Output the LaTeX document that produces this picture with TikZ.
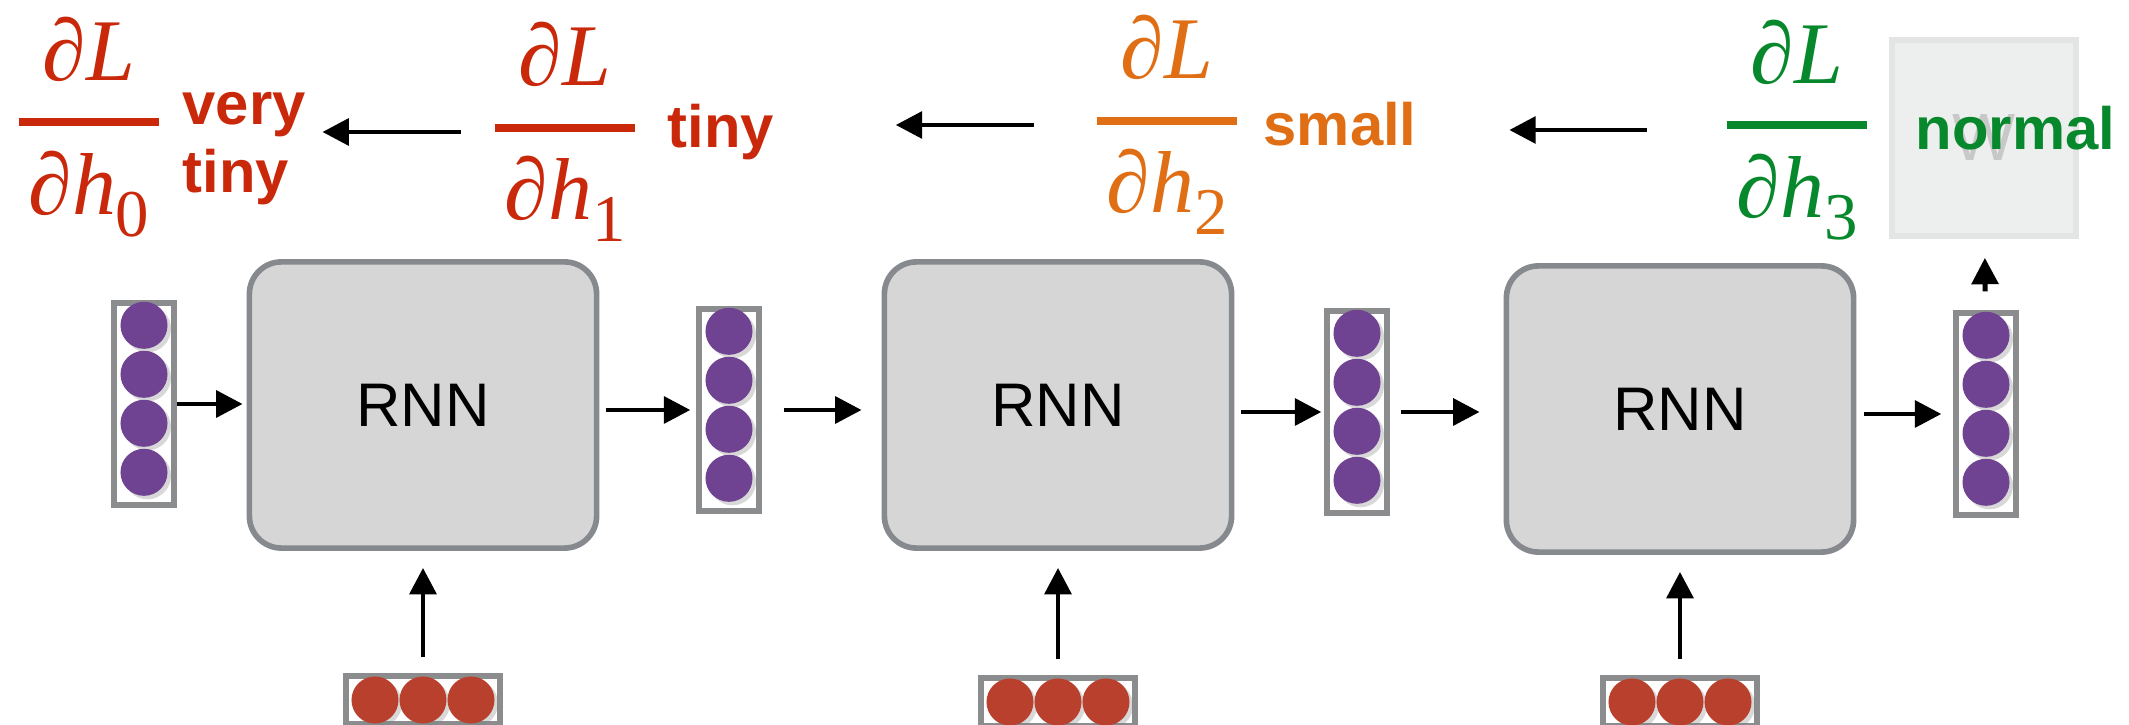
\documentclass[tikz,border=0pt]{standalone}
\usepackage{amsmath}
\usepackage{fontspec}
\setmainfont{Liberation Serif}
\setsansfont{Liberation Sans}
\usetikzlibrary{arrows.meta,shadows,positioning,calc}

\definecolor{gradred}{RGB}{201,40,10}
\definecolor{gradorange}{RGB}{224,110,20}
\definecolor{gradgreen}{RGB}{8,136,44}
\definecolor{hcol}{RGB}{112,66,146}
\definecolor{xcol}{RGB}{184,64,44}
\definecolor{cellfill}{RGB}{214,214,214}
\definecolor{cellline}{RGB}{134,137,141}
\definecolor{vecline}{RGB}{138,140,142}
\definecolor{wfill}{RGB}{237,238,238}
\definecolor{wline}{RGB}{227,228,228}
\definecolor{wtext}{RGB}{200,200,200}

% dL/dh_i with a thick bar
\newcommand{\dLdh}[1]{$\genfrac{}{}{2.3pt}{0}{\raisebox{0.05em}{\textit{∂L}}}{\kern0.1cm\textit{∂h}\raisebox{-0.25em}{\fontsize{19}{19}\selectfont #1}\kern0.1cm}$}

\tikzset{
  rnncell/.style={draw=cellline, fill=cellfill, line width=1.6pt, rounded corners=0.32cm,
    minimum width=3.47cm, minimum height=2.86cm, font=\sffamily\fontsize{17.5}{20}\selectfont},
  vecbox/.style={draw=vecline, fill=white, line width=1.5pt, inner sep=0pt},
  hbox/.style={vecbox, minimum width=0.6cm, minimum height=2.02cm},
  xbox/.style={vecbox, minimum width=1.54cm, minimum height=0.48cm},
  neuron/.style={circle, inner sep=0pt, minimum size=0.47cm,
    drop shadow={shadow xshift=0.035cm, shadow yshift=-0.035cm, opacity=0.3}},
  hneuron/.style={neuron, fill=hcol},
  xneuron/.style={neuron, fill=xcol},
  flow/.style={-{Triangle[length=7.5pt,width=7.5pt]}, line width=1.4pt},
  grad/.style={inner sep=0pt, font=\fontsize{25}{29}\selectfont},
  gradtag/.style={inner sep=0pt, anchor=base west, font=\sffamily\bfseries\fontsize{17}{19}\selectfont},
}

\begin{document}
\begin{tikzpicture}[x=0.01cm, y=-0.01cm]
\useasboundingbox (0,0) rectangle (2129,725);

% RNN cells
\node[rnncell] (rnn1) at (423,405) {RNN};
\node[rnncell] (rnn2) at (1058,405) {RNN};
\node[rnncell] (rnn3) at (1680,409) {RNN};

% hidden states
\foreach \n/\x/\y in {0/144/404, 1/729/410, 2/1357/412, 3/1986/414} {
  \node[hbox] (h\n) at (\x,\y) {};
  \foreach \k in {0,...,3}
    \node[hneuron] (h\n-\k) at ($(h\n.north)+(0,25+49*\k)$) {};
}

% inputs
\foreach \n/\x/\y in {1/423/700, 2/1058/702, 3/1680/702} {
  \node[xbox] (x\n) at (\x,\y) {};
  \foreach \k in {1,2,3}
    \node[xneuron] (x\n-\k) at ($(x\n)+(48*\k-96,0)$) {};
}

% weight box
\node[draw=wline, fill=wfill, line width=1.6pt, minimum width=1.84cm, minimum height=1.96cm,
  inner sep=0pt, text=wtext, font=\sffamily\fontsize{19}{19}\selectfont] (w) at (1984,138) {W};

% forward arrows
\draw[flow, shorten >=0.04cm] (h0.east) -- (h0.east -| rnn1.west);
\draw[flow, shorten <=0.07cm, shorten >=0.06cm] (h1.west -| rnn1.east) -- (h1.west);
\draw[flow, shorten <=0.22cm, shorten >=0.2cm] (h1.east) -- (h1.east -| rnn2.west);
\draw[flow, shorten <=0.07cm, shorten >=0.03cm] (h2.west -| rnn2.east) -- (h2.west);
\draw[flow, shorten <=0.11cm, shorten >=0.24cm] (h2.east) -- (h2.east -| rnn3.west);
\draw[flow, shorten <=0.08cm, shorten >=0.12cm] (h3.west -| rnn3.east) -- (h3.west);
\foreach \n in {1,2,3}
  \draw[flow, shorten <=0.16cm, shorten >=0.17cm] (x\n) -- (rnn\n);
\draw[flow, shorten <=0.19cm, shorten >=0.19cm] (h3) -- (w);

% gradients
\node[grad, text=gradred] (g0) at (89,127) {\dLdh{0}};
\node[grad, text=gradred] (g1) at (565,132) {\dLdh{1}};
\node[grad, text=gradorange] (g2) at (1167,125) {\dLdh{2}};
\node[grad, text=gradgreen] (g3) at (1797,130) {\dLdh{3}};

\node[gradtag, text=gradred] (l0) at (182,125) {very};
\node[gradtag, text=gradred] (l0b) at ([yshift=-0.67cm]l0.base west) {tiny};
\node[gradtag, text=gradred] (l1) at (667,148) {tiny};
\node[gradtag, text=gradorange] (l2) at (1263,146) {small};
\node[gradtag, text=gradgreen] (l3) at (1915,150) {normal};

% backward arrows
\draw[flow, shorten <=0.29cm, shorten >=0.16cm] (g1.west) -- (l0.east |- g1.west);
\draw[flow, shorten <=0.58cm, shorten >=1.21cm] (g2.west) -- (l1.east |- g2.west);
\draw[flow, shorten <=0.75cm, shorten >=0.92cm] (g3.west) -- (l2.east |- g3.west);
\end{tikzpicture}
\end{document}
